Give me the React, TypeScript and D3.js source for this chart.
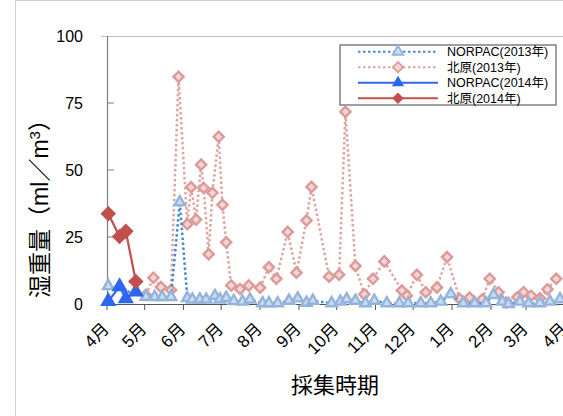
import React from "react";
import * as d3 from "d3";

const W = 563;
const H = 416;

const yTicks = [0, 25, 50, 75, 100];
const monthLabels = ["4月", "5月", "6月", "7月", "8月", "9月", "10月", "11月", "12月", "1月", "2月", "3月", "4月"];

const kitahara2013Dates = ["2013-05-02","2013-05-08","2013-05-14","2013-05-22","2013-05-28","2013-06-04","2013-06-07","2013-06-11","2013-06-15","2013-06-17","2013-06-21","2013-06-24","2013-06-29","2013-07-02","2013-07-05","2013-07-09","2013-07-16","2013-07-23","2013-08-01","2013-08-08","2013-08-14","2013-08-23","2013-08-30","2013-09-07","2013-09-11","2013-09-25","2013-10-03","2013-10-08","2013-10-16","2013-10-23","2013-10-30","2013-11-08","2013-11-22","2013-11-26","2013-12-04","2013-12-11","2013-12-20","2013-12-28","2014-01-07","2014-01-15","2014-01-25","2014-01-31","2014-02-07","2014-02-13","2014-02-22","2014-02-27","2014-03-05","2014-03-12","2014-03-18","2014-03-25"];
const kitahara2013Values = [3.4,9.8,6.3,5.2,84.8,29.8,43.6,31.5,52,43.3,18.6,41.5,62.4,37,23,6.9,5.6,6.9,6.1,13.7,9.4,26.9,11.7,31.2,43.7,10.2,10.9,71.7,14.2,3.6,9.4,15.9,5,3.1,10.9,4.4,6.2,17.5,1.9,2.4,1.7,9.4,4.4,0.5,2.5,4.4,3.1,2.1,5.5,9.4];

const norpac2013Dates = ["2013-04-02","2013-05-02","2013-05-09","2013-05-15","2013-05-22","2013-05-29","2013-06-04","2013-06-08","2013-06-14","2013-06-19","2013-06-26","2013-06-30","2013-07-05","2013-07-11","2013-07-18","2013-07-24","2013-08-03","2013-08-08","2013-08-15","2013-08-24","2013-08-31","2013-09-07","2013-09-12","2013-09-27","2013-10-04","2013-10-09","2013-10-16","2013-10-24","2013-10-31","2013-11-10","2013-11-20","2013-11-27","2013-12-07","2013-12-15","2013-12-23","2013-12-31","2014-01-10","2014-01-19","2014-01-28","2014-02-03","2014-02-10","2014-02-15","2014-02-24","2014-03-03","2014-03-12","2014-03-20","2014-03-28"];
const norpac2013Values = [6.7,2.7,2.6,2.6,2.6,38,2.2,1.7,1.7,1.7,3,1.7,2.3,1.1,0.9,1.7,0.3,0.3,0.3,1.2,2.1,0.5,1.2,0.3,0.9,1.8,1.2,0.3,1.2,0.3,0.3,0.3,0.3,0.3,0.9,3.7,0.3,0.3,0.3,3.4,0.9,0,0.9,0.3,0.3,0.9,1.8];

const dates2014 = ["2014-04-02","2014-04-11","2014-04-16","2014-04-24"];
const norpac2014Values = [1, 6.5, 2, 4.5];
const kitahara2014Values = [33.7, 25.2, 27.1, 8.4];

const parse = d3.timeParse("%Y-%m-%d");

type P = { d: Date; v: number };
function build(dates: string[], vals: number[], shiftYears = 0): P[] {
  return dates.map((s, i) => ({ d: d3.timeYear.offset(parse(s) as Date, shiftYears), v: vals[i] }));
}

const FONT = "'Liberation Sans', Arial, 'Noto Sans CJK JP', sans-serif";

export default function App() {
  const x = d3.scaleTime().domain([new Date(2013, 3, 1), new Date(2014, 3, 1)]).range([107, 565]);
  const y = d3.scaleLinear().domain([0, 100]).range([304, 36]);

  const k13 = build(kitahara2013Dates, kitahara2013Values);
  const n13 = build(norpac2013Dates, norpac2013Values);
  const n14 = build(dates2014, norpac2014Values, -1);
  const k14 = build(dates2014, kitahara2014Values, -1);

  const line = d3.line<P>().x((p) => x(p.d)).y((p) => y(p.v));
  const monthTicks = d3.timeMonth.range(new Date(2013, 3, 1), new Date(2014, 3, 2));

  const diamond = (size: number) => d3.symbol().type(d3.symbolSquare).size(size)() as string;
  const tri = (size: number) => d3.symbol().type(d3.symbolTriangle).size(size)() as string;

  const dSmall = diamond(52);
  const dBig = diamond(100);
  const tSmall = tri(48);
  const tBig = tri(80);

  const pinkLine = "#e0a4a2";
  const pinkFill = "#f3d6d5";
  const pinkStroke = "#dc9a98";
  const lbLine = "#4a86d6";
  const lbFill = "#cadcf1";
  const lbStroke = "#95b4dc";
  const blue = "#2f66ee";
  const red = "#c0504d";

  const legendRows = [
    { label: "NORPAC(2013年)", color: lbLine, dash: "2.5 2.5", marker: tSmall, fill: lbFill, stroke: lbStroke, rot: 0 },
    { label: "北原(2013年)", color: pinkLine, dash: "2.5 2.5", marker: dSmall, fill: pinkFill, stroke: pinkStroke, rot: 45 },
    { label: "NORPAC(2014年)", color: blue, dash: "", marker: tri(36), fill: blue, stroke: blue, rot: 0 },
    { label: "北原(2014年)", color: red, dash: "", marker: diamond(40), fill: red, stroke: red, rot: 45 },
  ];

  return (
    <svg width={W} height={H} style={{ position: "absolute", left: 0, top: 0, background: "#fff" }} fontFamily={FONT}>
      <rect x={15.5} y={0.5} width={W + 10} height={H + 10} fill="#fff" stroke="#d0d0d0" />
      {/* plot frame top */}
      <line x1={101} x2={W} y1={36.5} y2={36.5} stroke="#bdbdbd" />
      {/* y axis */}
      <line x1={107.5} x2={107.5} y1={36} y2={304} stroke="#7f7f7f" strokeWidth={1.2} />
      {yTicks.map((t) => (
        <g key={t}>
          {t > 0 && t < 100 && <line x1={107} x2={114} y1={y(t)} y2={y(t)} stroke="#7f7f7f" />}
          <text x={83} y={y(t)} dy="0.36em" textAnchor="end" fontSize={16} fill="#000">{t}</text>
        </g>
      ))}
      {/* x axis */}
      <line x1={107} x2={W} y1={304.5} y2={304.5} stroke="#555" strokeWidth={1.2} />
      {monthTicks.map((m, i) => (
        <g key={i}>
          <line x1={x(m)} x2={x(m)} y1={304} y2={310} stroke="#555" />
          <text transform={`translate(${x(m) + 3},330) rotate(-45)`} textAnchor="end" fontSize={17} fill="#000">
            {monthLabels[i]}
          </text>
        </g>
      ))}

      {/* 北原 2013 */}
      <path d={line(k13) as string} fill="none" stroke={pinkLine} strokeWidth={2.5} strokeDasharray="2.5 2.5" />
      {k13.map((p, i) => (
        <path key={i} d={dSmall} transform={`translate(${x(p.d)},${y(p.v)}) rotate(45)`} fill={pinkFill} stroke={pinkStroke} strokeWidth={2.4} />
      ))}
      {/* NORPAC 2013 */}
      <path d={line(n13) as string} fill="none" stroke={lbLine} strokeWidth={2.5} strokeDasharray="2.5 2.5" />
      {n13.map((p, i) => (
        <path key={i} d={tSmall} transform={`translate(${x(p.d)},${y(p.v)})`} fill={lbFill} stroke={lbStroke} strokeWidth={2.4} />
      ))}
      {/* NORPAC 2014 */}
      <path d={line(n14) as string} fill="none" stroke={blue} strokeWidth={2.2} />
      {n14.map((p, i) => (
        <path key={i} d={tBig} transform={`translate(${x(p.d)},${y(p.v)})`} fill={blue} stroke={blue} strokeWidth={1.5} />
      ))}
      {/* 北原 2014 */}
      <path d={line(k14) as string} fill="none" stroke={red} strokeWidth={2.2} />
      {k14.map((p, i) => (
        <path key={i} d={dBig} transform={`translate(${x(p.d)},${y(p.v)}) rotate(45)`} fill={red} stroke={red} strokeWidth={1} />
      ))}

      {/* legend */}
      <rect x={340} y={45} width={216} height={60} fill="#fff" stroke="#808080" strokeWidth={1.5} />
      {legendRows.map((r, i) => {
        const cy = 51.7 + i * 15.5;
        return (
          <g key={i}>
            <line x1={358} x2={438} y1={cy} y2={cy} stroke={r.color} strokeWidth={2} strokeDasharray={r.dash || undefined} />
            <path d={r.marker} transform={`translate(398,${cy}) rotate(${r.rot})`} fill={r.fill} stroke={r.stroke} strokeWidth={1.8} />
            <text x={447} y={cy} dy="0.36em" fontSize={12.5} fill="#000">{r.label}</text>
          </g>
        );
      })}

      {/* axis titles */}
      <text x={335} y={393} textAnchor="middle" fontSize={22} fill="#000">採集時期</text>
      <text transform="translate(48,203) rotate(-90)" textAnchor="middle" fontSize={23} fill="#000">
        湿重量（ml／m<tspan fontSize={15} dy={-8}>3</tspan><tspan dy={8}>）</tspan>
      </text>
    </svg>
  );
}
